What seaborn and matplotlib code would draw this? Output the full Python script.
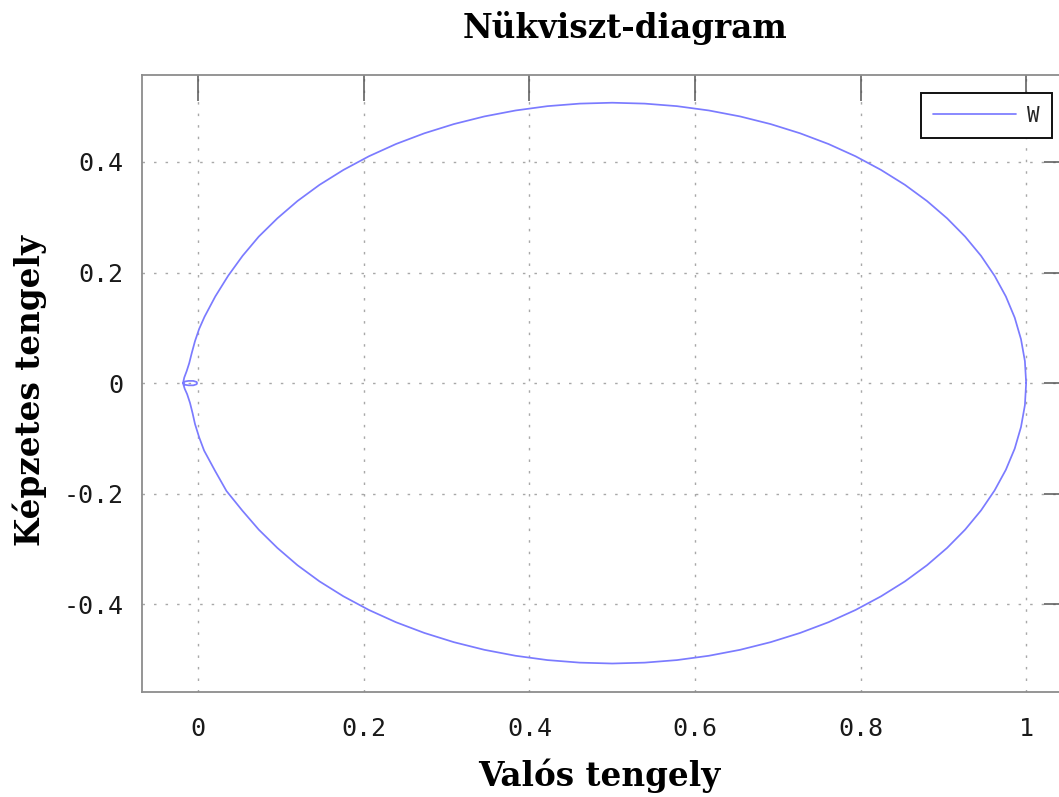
import matplotlib
matplotlib.use("Agg")
import matplotlib.pyplot as plt
import pandas as pd
import seaborn as sns

# Nyquist contour of W(jω): upper branch (from 1 towards the origin)
upper_re = [1.000, 0.9985, 0.9938, 0.9862, 0.9755, 0.9619, 0.9455, 0.9263, 0.9045,
            0.8802, 0.8536, 0.8247, 0.7939, 0.7613, 0.7270, 0.6913, 0.6545, 0.6167,
            0.5782, 0.5392, 0.5000, 0.4608, 0.4218, 0.3833, 0.3455, 0.3087, 0.2730,
            0.2387, 0.2061, 0.1753, 0.1464, 0.1198, 0.0955, 0.0730, 0.0535, 0.0360,
            0.0205, 0.0075, 0.0010, -0.0040, -0.0080, -0.0110, -0.0140, -0.0170,
            -0.0185]
upper_im = [0.000, 0.0398, 0.0793, 0.1184, 0.1567, 0.1940, 0.2302, 0.2649, 0.2980,
            0.3293, 0.3585, 0.3855, 0.4102, 0.4323, 0.4517, 0.4684, 0.4822, 0.4930,
            0.5008, 0.5054, 0.5070, 0.5054, 0.5008, 0.4930, 0.4822, 0.4684, 0.4517,
            0.4323, 0.4102, 0.3855, 0.3585, 0.3293, 0.2980, 0.2649, 0.2302, 0.1940,
            0.1567, 0.1200, 0.0980, 0.0760, 0.0540, 0.0360, 0.0220, 0.0100,
            0.0000]

# small loop around the origin
loop_re = [-0.016, -0.012, -0.006, -0.002, -0.0015, -0.002, -0.006, -0.012, -0.016, -0.0185]
loop_im = [0.003, 0.004, 0.004, 0.002, 0.000, -0.002, -0.004, -0.004, -0.003, 0.000]

# lower branch (from the origin back to 1)
lower_re = [-0.0165, -0.0135, -0.0100, -0.0070, -0.0040, 0.0010, 0.0070, 0.0200,
            0.0340, 0.0530, 0.0730, 0.0955, 0.1198, 0.1464, 0.1753, 0.2061, 0.2387,
            0.2730, 0.3087, 0.3455, 0.3833, 0.4218, 0.4608, 0.5000, 0.5392, 0.5782,
            0.6167, 0.6545, 0.6913, 0.7270, 0.7613, 0.7939, 0.8247, 0.8536, 0.8802,
            0.9045, 0.9263, 0.9455, 0.9619, 0.9755, 0.9862, 0.9938, 0.9985, 1.000]
lower_im = [-0.0100, -0.0200, -0.0360, -0.0540, -0.0740, -0.0980, -0.1220, -0.1580,
            -0.1950, -0.2302, -0.2649, -0.2980, -0.3293, -0.3585, -0.3855, -0.4102,
            -0.4323, -0.4517, -0.4684, -0.4822, -0.4930, -0.5008, -0.5054, -0.5070,
            -0.5054, -0.5008, -0.4930, -0.4822, -0.4684, -0.4517, -0.4323, -0.4102,
            -0.3855, -0.3585, -0.3293, -0.2980, -0.2649, -0.2302, -0.1940, -0.1567,
            -0.1184, -0.0793, -0.0398, 0.000]

x_ticks = [0, 0.2, 0.4, 0.6, 0.8, 1]
x_tick_labels = ["0", "0.2", "0.4", "0.6", "0.8", "1"]
y_ticks = [-0.4, -0.2, 0, 0.2, 0.4]
y_tick_labels = ["-0.4", "-0.2", "0", "0.2", "0.4"]

df = pd.DataFrame({
    "re": upper_re + loop_re + lower_re,
    "im": upper_im + loop_im + lower_im,
})

sns.set_style("white")
plt.rcParams["font.family"] = ["DejaVu Sans Mono"]

fig = plt.figure(figsize=(10.59, 7.97), dpi=100)
ax = fig.add_axes([0.1338, 0.1314, 0.8766, 0.7751])

sns.lineplot(data=df, x="re", y="im", sort=False, estimator=None,
             color="#7b7bff", linewidth=1.25, label="W", ax=ax)
for ln in ax.get_lines():
    ln.set_solid_joinstyle("round")

ax.set_xlim(-0.0684, 1.053)
ax.set_ylim(-0.559, 0.558)
ax.set_xticks(x_ticks)
ax.set_xticklabels(x_tick_labels)
ax.set_yticks(y_ticks)
ax.set_yticklabels(y_tick_labels)

ax.grid(True, color="#a8a8a8", linewidth=1.0, linestyle=(0, (1.8, 6.5)))
for s in ax.spines.values():
    s.set_color("#8c8c8c")
    s.set_linewidth(1.3)

ax.tick_params(axis="both", direction="in", length=19, width=1.1, color="#555555",
               top=True, right=True, labelsize=18, labelcolor="#1a1a1a")
ax.tick_params(axis="x", pad=18)
ax.tick_params(axis="y", pad=13)

serif = ["DejaVu Serif"]
ax.set_title("Nükviszt-diagram", family=serif, fontweight="bold", fontsize=23.5,
             color="black", x=0.5206, y=1 + (74.5 - 28) / 617.8, va="center", pad=0)
ax.set_xlabel("Valós tengely", family=serif, fontweight="bold", fontsize=23.5,
              color="black")
ax.set_ylabel("Képzetes tengely", family=serif, fontweight="bold", fontsize=23.5,
              color="black")
ax.xaxis.set_label_coords(0.4926, (692.3 - 776) / 617.8)
ax.xaxis.label.set_va("center")
ax.yaxis.set_label_coords((30 - 141.7) / 928.3, 0.4893)
ax.yaxis.label.set_va("center")

leg = ax.legend(loc="upper right", bbox_to_anchor=(1052 / 1059, 1 - 93 / 797),
                bbox_transform=fig.transFigure, borderaxespad=0, fancybox=False,
                framealpha=1, edgecolor="#111111", fontsize=15, handlelength=4.0,
                borderpad=0.6, handletextpad=0.5)
leg.get_frame().set_linewidth(1.4)

fig.savefig("out.png", dpi=100)
